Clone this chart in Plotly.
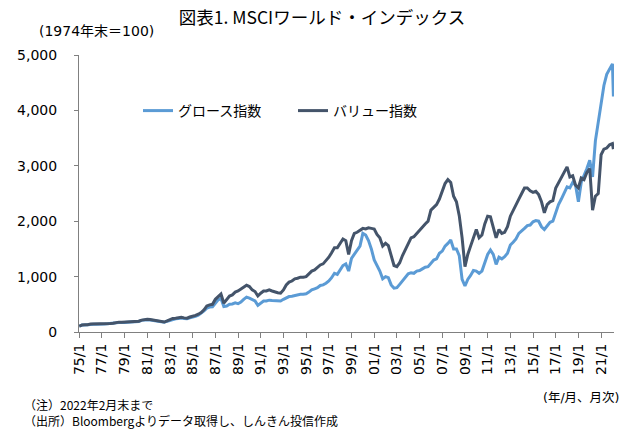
import pandas as pd
import plotly.graph_objects as go

# Quarterly observation months (Jan/Apr/Jul/Oct), 1975/1 .. 2022/1, plus 2022/2
dates = list(pd.date_range("1975-01-01", "2022-01-01", freq="3MS").strftime("%Y-%m-%d")) + ["2022-02-01"]

value_idx = [
    105, 125, 130, 130,  # 1975
    145, 145, 148, 145,  # 1976
    148, 150, 152, 155,  # 1977
    160, 170, 178, 175,  # 1978
    178, 180, 185, 185,  # 1979
    195, 195, 215, 228,  # 1980
    230, 225, 215, 200,  # 1981
    195, 190, 180, 200,  # 1982
    225, 245, 250, 255,  # 1983
    265, 255, 250, 270,  # 1984
    280, 300, 320, 350,  # 1985
    400, 470, 490, 500,  # 1986
    590, 640, 685, 520,  # 1987
    580, 650, 670, 720,  # 1988
    740, 770, 800, 845,  # 1989
    820, 760, 730, 650,  # 1990
    700, 740, 740, 760,  # 1991
    740, 720, 710, 700,  # 1992
    760, 850, 900, 920,  # 1993
    960, 970, 990, 990,  # 1994
    1000, 1050, 1100, 1120,  # 1995
    1170, 1210, 1230, 1290,  # 1996
    1350, 1430, 1520, 1520,  # 1997
    1600, 1680, 1650, 1400,  # 1998
    1650, 1780, 1800, 1830,  # 1999
    1870, 1860, 1880, 1870,  # 2000
    1860, 1760, 1700, 1550,  # 2001
    1600, 1560, 1400, 1200,  # 2002
    1180, 1250, 1380, 1480,  # 2003
    1600, 1700, 1720, 1780,  # 2004
    1850, 1900, 1950, 2000,  # 2005
    2200, 2250, 2300, 2400,  # 2006
    2550, 2680, 2750, 2700,  # 2007
    2450, 2350, 2100, 1700,  # 2008
    1180, 1400, 1550, 1720,  # 2009
    1850, 1700, 1750, 1950,  # 2010
    2090, 2080, 1900, 1700,  # 2011
    1850, 1780, 1800, 1900,  # 2012
    2090, 2200, 2300, 2400,  # 2013
    2500, 2600, 2600, 2550,  # 2014
    2520, 2540, 2480, 2350,  # 2015
    2150, 2300, 2350, 2370,  # 2016
    2600, 2700, 2800, 2900,  # 2017
    2980, 2800, 2820, 2650,  # 2018
    2600, 2780, 2750, 2880,  # 2019
    2950, 2200, 2450, 2500,  # 2020
    3200, 3300, 3320, 3380,  # 2021
    3400, 3300,              # 2022/1, 2022/2
]

growth_idx = [
    105, 125, 128, 128,  # 1975
    140, 140, 142, 140,  # 1976
    142, 145, 148, 150,  # 1977
    155, 165, 172, 168,  # 1978
    172, 175, 180, 180,  # 1979
    188, 190, 210, 220,  # 1980
    222, 215, 205, 192,  # 1981
    188, 182, 175, 195,  # 1982
    215, 232, 240, 245,  # 1983
    252, 245, 240, 258,  # 1984
    268, 285, 305, 335,  # 1985
    380, 430, 450, 455,  # 1986
    530, 580, 605, 460,  # 1987
    470, 500, 505, 525,  # 1988
    510, 540, 590, 630,  # 1989
    610, 580, 560, 480,  # 1990
    520, 560, 560, 575,  # 1991
    570, 565, 560, 560,  # 1992
    590, 620, 640, 645,  # 1993
    660, 665, 680, 680,  # 1994
    690, 720, 760, 780,  # 1995
    800, 840, 850, 880,  # 1996
    920, 980, 1060, 1040,  # 1997
    1120, 1200, 1230, 1100,  # 1998
    1330, 1400, 1480, 1550,  # 1999
    1780, 1750, 1650, 1500,  # 2000
    1300, 1200, 1100, 960,  # 2001
    1000, 980, 850, 790,  # 2002
    800, 860, 930, 980,  # 2003
    1050, 1070, 1060, 1100,  # 2004
    1110, 1140, 1170, 1180,  # 2005
    1250, 1300, 1320, 1420,  # 2006
    1460, 1550, 1600, 1660,  # 2007
    1500, 1500, 1380, 950,  # 2008
    830, 950, 1020, 1110,  # 2009
    1100, 1060, 1100, 1250,  # 2010
    1400, 1480, 1400, 1220,  # 2011
    1350, 1320, 1360, 1420,  # 2012
    1570, 1620, 1680, 1780,  # 2013
    1820, 1870, 1920, 1930,  # 2014
    1990, 2010, 2000, 1900,  # 2015
    1850, 1920, 1980, 2000,  # 2016
    2150, 2300, 2400, 2520,  # 2017
    2620, 2600, 2700, 2650,  # 2018
    2350, 2700, 2820, 2950,  # 2019
    3100, 2800, 3450, 3800,  # 2020
    4100, 4450, 4650, 4750,  # 2021
    4840, 4250,              # 2022/1, 2022/2
]

series_names = ["グロース指数", "バリュー指数"]
y_ticks = [0, 1000, 2000, 3000, 4000, 5000]

W, H = 621, 430
L, R, T, B = 79, 7, 55, 98
pw, ph = W - L - R, H - T - B

def px(x):
    return (x - L) / pw

def py(y):
    return (H - B - y) / ph

NUM_FONT = "DejaVu Sans, Noto Sans CJK JP"
JP_FONT = "Noto Sans CJK JP, DejaVu Sans"

fig = go.Figure()
fig.add_trace(go.Scatter(x=dates, y=growth_idx, name=series_names[0], mode="lines",
                         line=dict(color="#5B9BD5", width=3)))
fig.add_trace(go.Scatter(x=dates, y=value_idx, name=series_names[1], mode="lines",
                         line=dict(color="#44546A", width=3)))

fig.update_layout(
    width=W, height=H,
    margin=dict(l=L, r=R, t=T, b=B),
    paper_bgcolor="white", plot_bgcolor="white",
    title=dict(text="図表1. MSCIワールド・インデックス", x=322 / W, xref="container",
               y=1 - 18 / H, yref="container", xanchor="center", yanchor="middle",
               font=dict(family=JP_FONT, size=17.5, color="#000000")),
    showlegend=True,
    legend=dict(orientation="h", x=px(138), y=py(111), xanchor="left", yanchor="middle",
                font=dict(family=JP_FONT, size=14, color="#000000"),
                bgcolor="rgba(0,0,0,0)", entrywidth=110, entrywidthmode="pixels"),
    xaxis=dict(type="date", range=["1974-12-25", "2022-02-20"],
               tick0="1975-01-01", dtick="M24", tickformat="%y/%-m",
               tickangle=-90, ticks="outside", ticklen=5, tickcolor="#808080",
               showline=True, linecolor="#808080", linewidth=1, showgrid=False,
               zeroline=False, tickfont=dict(family=NUM_FONT, size=14, color="#000000")),
    yaxis=dict(range=[0, 5000], tickvals=y_ticks, tickformat=",", ticks="outside",
               ticklen=4, tickcolor="#808080", showline=True, linecolor="#808080",
               linewidth=1, showgrid=False, zeroline=False, ticklabelstandoff=14,
               tickfont=dict(family=NUM_FONT, size=14, color="#000000")),
)

annots = [
    dict(text="(1974年末＝100)", x=px(37), y=py(31), xanchor="left", yanchor="middle",
         font=dict(family=NUM_FONT, size=14, color="#000000")),
    dict(text="(年/月、月次)", x=px(621), y=py(397), xanchor="right", yanchor="middle",
         font=dict(family=NUM_FONT, size=12.5, color="#000000")),
    dict(text="（注）2022年2月末まで", x=px(22), y=py(404), xanchor="left", yanchor="middle",
         font=dict(family=JP_FONT, size=12, color="#000000")),
    dict(text="（出所）Bloombergよりデータ取得し、しんきん投信作成", x=px(22), y=py(420),
         xanchor="left", yanchor="middle",
         font=dict(family=JP_FONT, size=12, color="#000000")),
]
for a in annots:
    fig.add_annotation(xref="paper", yref="paper", showarrow=False, **a)

fig.write_html("out.html", config={"displayModeBar": False},
               post_script="document.body.style.margin='0';")
